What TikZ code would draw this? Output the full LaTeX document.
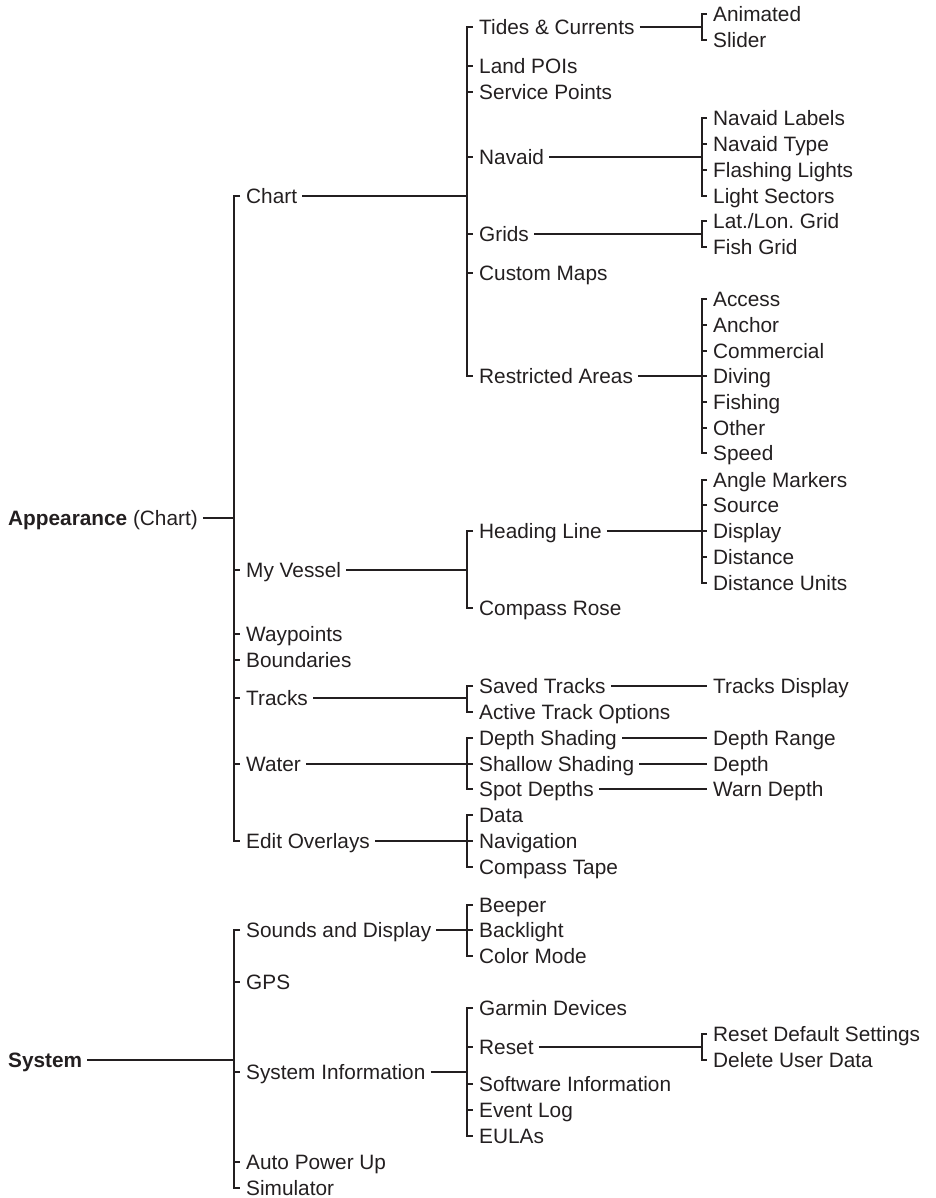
\documentclass[tikz,border=0pt]{standalone}
\usepackage{fontspec}
\setmainfont{Liberation Sans}
\definecolor{ink}{HTML}{231F20}
\tikzset{
  lbl/.style={anchor=west, inner sep=0pt, text height=15pt, text depth=0pt, text=ink,
    font=\fontsize{20.8}{25}\selectfont},
  conn/.style={draw=ink, line width=1.3pt},
}
\newcommand\brk[3]{\draw[conn] ([xshift=-6pt]#2.west) -- (#2.west -| #1) -- (#3.west -| #1) -- ([xshift=-6pt]#3.west);}
\newcommand\tk[2]{\draw[conn] (#2.west -| #1) -- ([xshift=-6pt]#2.west);}
\newcommand\lnk[2]{\draw[conn] ([xshift=5pt]#1.east) -- (#1.east -| #2);}
\newcommand\strt[2]{\draw[conn] ([xshift=5pt]#1.east) -- ([xshift=-6pt]#2.west);}
\begin{document}
\begin{tikzpicture}[x=1pt,y=-1pt]
\useasboundingbox (0,0) rectangle (935,1198);
\coordinate (v1) at (234,0);
\coordinate (v2) at (467,0);
\coordinate (v3) at (702,0);
% level 0
\node[lbl] (app) at (8,518) {\textbf{Appearance} (Chart)};
\node[lbl] (sys) at (8,1060) {\textbf{System}};
% level 1
\node[lbl] (chart) at (246,196) {Chart};
\node[lbl] (myv) at (246,570) {My Vessel};
\node[lbl] (wayp) at (246,634) {Waypoints};
\node[lbl] (bound) at (246,660) {Boundaries};
\node[lbl] (tracks) at (246,698) {Tracks};
\node[lbl] (water) at (246,764) {Water};
\node[lbl] (edit) at (246,841) {Edit Overlays};
\node[lbl] (sd) at (246,930) {Sounds and Display};
\node[lbl] (gps) at (246,982) {GPS};
\node[lbl] (sysinfo) at (246,1072) {System Information};
\node[lbl] (apu) at (246,1162) {Auto Power Up};
\node[lbl] (sim) at (246,1188) {Simulator};
% level 2
\node[lbl] (tides) at (479,27) {Tides \& Currents};
\node[lbl] (land) at (479,66) {Land POIs};
\node[lbl] (serv) at (479,92) {Service Points};
\node[lbl] (navaid) at (479,157) {Navaid};
\node[lbl] (grids) at (479,234) {Grids};
\node[lbl] (custom) at (479,273) {Custom Maps};
\node[lbl] (restr) at (479,376) {Restricted Areas};
\node[lbl] (heading) at (479,531) {Heading Line};
\node[lbl] (compass) at (479,608) {Compass Rose};
\node[lbl] (saved) at (479,686) {Saved Tracks};
\node[lbl] (active) at (479,712) {Active Track Options};
\node[lbl] (dshade) at (479,738) {Depth Shading};
\node[lbl] (sshade) at (479,764) {Shallow Shading};
\node[lbl] (spot) at (479,789) {Spot Depths};
\node[lbl] (data) at (479,815) {Data};
\node[lbl] (navig) at (479,841) {Navigation};
\node[lbl] (ctape) at (479,867) {Compass Tape};
\node[lbl] (beeper) at (479,905) {Beeper};
\node[lbl] (backl) at (479,930) {Backlight};
\node[lbl] (colm) at (479,956) {Color Mode};
\node[lbl] (garmin) at (479,1008) {Garmin Devices};
\node[lbl] (reset) at (479,1047) {Reset};
\node[lbl] (soft) at (479,1084) {Software Information};
\node[lbl] (event) at (479,1110) {Event Log};
\node[lbl] (eula) at (479,1136) {EULAs};
% level 3
\node[lbl] (anim) at (713,14) {Animated};
\node[lbl] (slider) at (713,40) {Slider};
\node[lbl] (nl) at (713,118) {Navaid Labels};
\node[lbl] (nt) at (713,144) {Navaid Type};
\node[lbl] (fl) at (713,170) {Flashing Lights};
\node[lbl] (ls) at (713,196) {Light Sectors};
\node[lbl] (llg) at (713,221) {Lat./Lon.\ Grid};
\node[lbl] (fg) at (713,247) {Fish Grid};
\node[lbl] (access) at (713,299) {Access};
\node[lbl] (anchor) at (713,325) {Anchor};
\node[lbl] (comm) at (713,351) {Commercial};
\node[lbl] (diving) at (713,376) {Diving};
\node[lbl] (fishing) at (713,402) {Fishing};
\node[lbl] (other) at (713,428) {Other};
\node[lbl] (speed) at (713,453) {Speed};
\node[lbl] (am) at (713,480) {Angle Markers};
\node[lbl] (source) at (713,505) {Source};
\node[lbl] (display) at (713,531) {Display};
\node[lbl] (dist) at (713,557) {Distance};
\node[lbl] (du) at (713,583) {Distance Units};
\node[lbl] (tdisp) at (713,686) {Tracks Display};
\node[lbl] (drange) at (713,738) {Depth Range};
\node[lbl] (depth) at (713,764) {Depth};
\node[lbl] (warn) at (713,789) {Warn Depth};
\node[lbl] (rds) at (713,1034) {Reset Default Settings};
\node[lbl] (dud) at (713,1060) {Delete User Data};
% connectors
\lnk{app}{v1} \brk{v1}{chart}{edit}
\foreach \n in {myv,wayp,bound,tracks,water} {\tk{v1}{\n}}
\lnk{sys}{v1} \brk{v1}{sd}{sim}
\foreach \n in {gps,sysinfo,apu} {\tk{v1}{\n}}
\lnk{chart}{v2} \brk{v2}{tides}{restr}
\foreach \n in {land,serv,navaid,grids,custom} {\tk{v2}{\n}}
\lnk{tides}{v3} \brk{v3}{anim}{slider}
\lnk{navaid}{v3} \brk{v3}{nl}{ls}
\foreach \n in {nt,fl} {\tk{v3}{\n}}
\lnk{grids}{v3} \brk{v3}{llg}{fg}
\lnk{restr}{v3} \brk{v3}{access}{speed}
\foreach \n in {anchor,comm,diving,fishing,other} {\tk{v3}{\n}}
\lnk{myv}{v2} \brk{v2}{heading}{compass}
\lnk{heading}{v3} \brk{v3}{am}{du}
\foreach \n in {source,display,dist} {\tk{v3}{\n}}
\lnk{tracks}{v2} \brk{v2}{saved}{active}
\strt{saved}{tdisp}
\lnk{water}{v2} \brk{v2}{dshade}{spot} \tk{v2}{sshade}
\strt{dshade}{drange} \strt{sshade}{depth} \strt{spot}{warn}
\lnk{edit}{v2} \brk{v2}{data}{ctape} \tk{v2}{navig}
\lnk{sd}{v2} \brk{v2}{beeper}{colm} \tk{v2}{backl}
\lnk{sysinfo}{v2} \brk{v2}{garmin}{eula}
\foreach \n in {reset,soft,event} {\tk{v2}{\n}}
\lnk{reset}{v3} \brk{v3}{rds}{dud}
\end{tikzpicture}
\end{document}
